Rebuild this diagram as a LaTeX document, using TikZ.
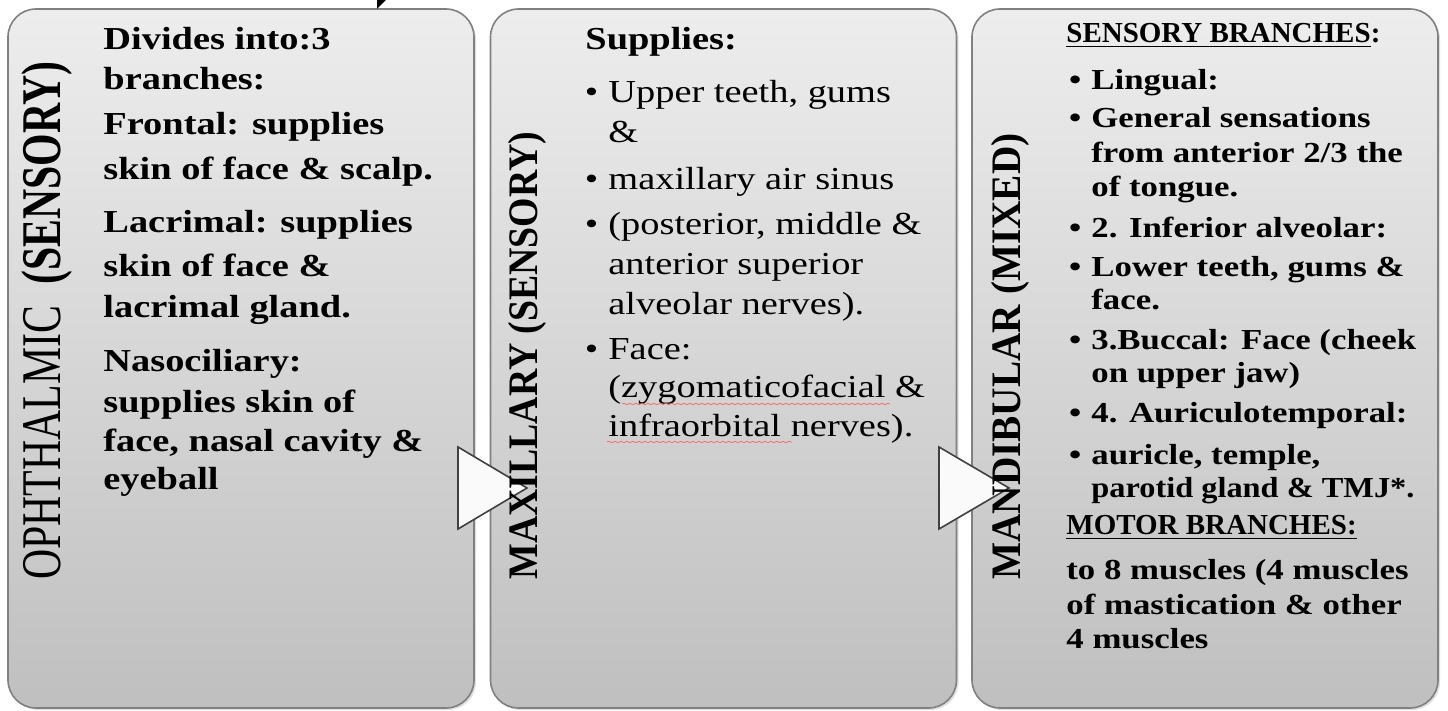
\documentclass[tikz,border=0pt]{standalone}
\usepackage{fontspec}
\setmainfont{Liberation Serif}
\newfontfamily\bodyfont[FakeStretch=1.2]{Liberation Serif}
\usetikzlibrary{shadows,decorations.pathmorphing}
\newcommand\bul{\llap{\textbullet\hspace{5pt}}}
\begin{document}
\begin{tikzpicture}[x=0.5pt,y=-0.5pt,
  box/.style={draw=black!50, line width=0.8pt, rounded corners=14pt,
    top color=black!7, bottom color=black!25, inner sep=0pt, outer sep=0pt,
    minimum width=233pt, minimum height=349.5pt,
    drop shadow={opacity=0.25, shadow xshift=1pt, shadow yshift=-1pt}},
  chev/.style={draw=black!75, fill=black!2, line width=0.8pt, line join=miter},
  txtL/.style={anchor=base west, inner sep=0pt, font=\bodyfont\fontsize{16}{19}\selectfont\bfseries},
  txtM/.style={anchor=base west, inner sep=0pt, font=\bodyfont\fontsize{16}{19}\selectfont},
  txtR/.style={anchor=base west, inner sep=0pt, font=\bodyfont\fontsize{14.5}{17}\selectfont\bfseries},
  headR/.style={anchor=base west, inner sep=0pt, font=\fontsize{14.5}{17}\selectfont\bfseries},
  vlab/.style={rotate=90, anchor=base west, inner sep=0pt},
  squig/.style={red!65, line width=0.3pt, decorate, decoration={snake, amplitude=0.4pt, segment length=3pt}}
]
\useasboundingbox (0,0) rectangle (1448,711);
% boxes
\node[box] (b1) at (241,358.5) {};
\node[box] (b2) at (723.5,358.5) {};
\node[box] (b3) at (1205,358.5) {};
% small black mark at top
\fill[black] (377,0) -- (386,0) -- (377,9) -- cycle;
% chevrons
\coordinate (c1a) at (458,447); \coordinate (c1b) at (527,488); \coordinate (c1c) at (458,529);
\coordinate (c2a) at (939,447); \coordinate (c2b) at (1009,488); \coordinate (c2c) at (939,529);
\draw[chev] (c1a) -- (c1b) -- (c1c) -- cycle;
\draw[chev] (c2a) -- (c2b) -- (c2c) -- cycle;
% vertical labels
\node[vlab] (v1) at (61,580) {\scalebox{0.746}[1]{\fontsize{28}{28}\selectfont OPHTHALMIC\ \ \textbf{(SENSORY)}}};
\node[vlab] (v2) at (537,580) {\scalebox{0.90}[1]{\fontsize{21}{21}\selectfont\bfseries MAXILLARY (SENSORY)}};
\node[vlab] (v3) at (1020,580) {\scalebox{0.935}[1]{\fontsize{21}{21}\selectfont\bfseries MANDIBULAR (MIXED)}};
% left box text
\foreach \y/\t [count=\i] in {
  50/{Divides into:3},
  90/{branches:},
  135/{Frontal: supplies},
  180/{skin of face \& scalp.},
  233/{Lacrimal: supplies},
  277/{skin of face \&},
  318/{lacrimal gland.},
  372/{Nasociliary:},
  413/{supplies skin of},
  452/{face, nasal cavity \&},
  490/{eyeball}}
  \node[txtL] (L\i) at (103,\y) {\t};
% middle box text
\node[txtL] (M0) at (585,50) {Supplies:};
\foreach \y/\t [count=\i] in {
  103/{\bul Upper teeth, gums},
  143/{\&},
  190/{\bul maxillary air sinus},
  235/{\bul (posterior, middle \&},
  275/{anterior superior},
  315/{alveolar nerves).},
  360/{\bul Face:},
  398/{(zygomaticofacial \&},
  437/{infraorbital nerves).}}
  \node[txtM] (M\i) at (608,\y) {\t};
\draw[squig] (622,404) -- (890,404);
\draw[squig] (607,442) -- (792,442);
% right box text
\node[headR] (R0) at (1066,43) {\underline{SENSORY BRANCHES}:};
\foreach \y/\t [count=\i] in {
  90/{\bul Lingual:},
  128/{\bul General sensations},
  163/{from anterior 2/3 the},
  197/{of tongue.},
  238/{\bul 2. Inferior alveolar:},
  277/{\bul Lower teeth, gums \&},
  310/{face.},
  350/{\bul 3.Buccal: Face (cheek},
  383/{on upper jaw)},
  423/{\bul 4. Auriculotemporal:},
  465/{\bul auricle, temple,}}
  \node[txtR] (R\i) at (1091,\y) {\t};
\node[txtR] (R12) at (1091,498) {\scalebox{0.93}[1]{parotid gland \& TMJ*.}};
\node[headR] (R13) at (1066,535) {\underline{MOTOR BRANCHES:}};
\node[txtR] (R14) at (1066,580) {to 8 muscles (4 muscles};
\node[txtR] (R15) at (1066,615) {of mastication \& other};
\node[txtR] (R16) at (1066,648) {4 muscles};
\end{tikzpicture}
\end{document}
